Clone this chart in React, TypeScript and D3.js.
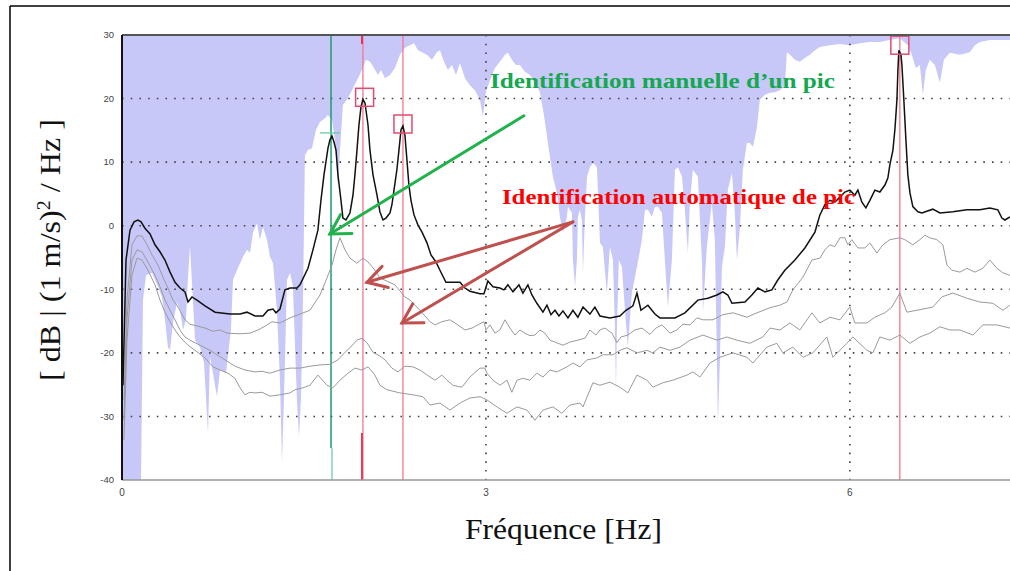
import React from 'react';
import * as d3 from 'd3';

type P = [number, number];

// Axis ticks
const xTickValues = [0, 3, 6];
const yTickValues = [30, 20, 10, 0, -10, -20, -30, -40];
const xGridValues = [3, 6];
const yGridValues = [20, 10, 0, -10, -20, -30];

// [frequency Hz, dB]
const mainSpectrum: P[] = [
  [0.008, -25.1], [0.033, -5.4], [0.066, -0.7], [0.099, 0.6], [0.132, 0.9], [0.157, 0.6], [0.189, -0.4],
  [0.231, -1.3], [0.272, -3.0], [0.313, -4.1], [0.354, -5.4], [0.396, -7.3], [0.437, -8.9], [0.478, -9.8],
  [0.519, -10.4], [0.544, -12.0], [0.577, -11.2], [0.618, -11.7], [0.684, -12.6], [0.767, -13.6], [0.89, -13.9],
  [0.973, -13.9], [1.03, -13.6], [1.096, -14.2], [1.162, -14.2], [1.203, -13.3], [1.245, -13.1], [1.269, -13.7],
  [1.302, -13.1], [1.343, -10.1], [1.385, -9.8], [1.442, -9.8], [1.467, -9.3], [1.533, -6.7], [1.574, -3.8],
  [1.615, -0.7], [1.64, 4.0], [1.665, 8.0], [1.698, 12.2], [1.714, 13.5], [1.731, 14.1], [1.747, 13.2],
  [1.764, 11.9], [1.78, 8.0], [1.805, 4.0], [1.821, 1.2], [1.846, 0.9], [1.879, 2.0], [1.904, 4.8], [1.92, 8.0],
  [1.937, 11.9], [1.953, 15.8], [1.97, 18.7], [1.986, 19.9], [2.003, 19.3], [2.011, 18.2], [2.028, 15.8],
  [2.044, 11.9], [2.069, 8.0], [2.102, 4.8], [2.126, 2.2], [2.151, 0.9], [2.176, 1.2], [2.209, 2.0], [2.225, 3.3],
  [2.242, 5.6], [2.266, 8.8], [2.283, 11.9], [2.3, 15.1], [2.316, 15.7], [2.332, 14.3], [2.349, 10.3],
  [2.365, 6.4], [2.382, 4.0], [2.407, 1.7], [2.44, 0.1], [2.473, -1.0], [2.514, -2.7], [2.547, -4.6],
  [2.588, -5.7], [2.621, -7.0], [2.67, -8.9], [2.72, -8.9], [2.786, -8.9], [2.827, -9.8], [2.868, -10.3],
  [2.951, -10.7], [2.984, -10.7], [3.016, -8.7], [3.058, -9.6], [3.115, -9.8], [3.148, -10.1], [3.181, -9.3],
  [3.223, -10.4], [3.272, -9.3], [3.305, -10.6], [3.346, -9.3], [3.379, -10.9], [3.42, -12.2], [3.47, -13.6],
  [3.503, -12.5], [3.536, -14.0], [3.569, -13.3], [3.602, -14.2], [3.635, -13.4], [3.676, -14.5], [3.717, -13.3],
  [3.758, -14.4], [3.8, -12.8], [3.857, -13.9], [3.898, -12.8], [3.94, -14.2], [4.022, -14.5], [4.104, -14.2],
  [4.154, -13.3], [4.212, -12.6], [4.245, -10.6], [4.278, -13.3], [4.335, -12.5], [4.393, -13.9], [4.434, -14.5],
  [4.5, -14.5], [4.558, -14.5], [4.64, -13.7], [4.747, -11.7], [4.83, -11.4], [4.904, -10.9], [4.953, -10.4],
  [4.994, -10.9], [5.028, -12.2], [5.135, -12.0], [5.192, -10.9], [5.242, -9.8], [5.3, -10.4], [5.357, -10.1],
  [5.407, -8.5], [5.464, -7.0], [5.547, -5.4], [5.629, -3.5], [5.712, -1.0], [5.753, 1.7], [5.794, 3.3],
  [5.835, 4.0], [5.876, 3.7], [5.918, 4.5], [5.959, 5.3], [6.0, 5.6], [6.041, 4.8], [6.066, 5.6], [6.099, 3.7],
  [6.132, 2.8], [6.165, 4.0], [6.206, 5.6], [6.247, 5.3], [6.289, 6.4], [6.313, 7.5], [6.33, 9.6], [6.355, 11.9],
  [6.371, 15.1], [6.388, 19.8], [6.396, 24.5], [6.404, 27.6], [6.421, 26.9], [6.429, 25.3], [6.445, 19.8],
  [6.462, 13.5], [6.478, 8.0], [6.495, 5.2], [6.519, 3.0], [6.561, 2.2], [6.594, 2.0], [6.684, 2.6], [6.742, 2.0],
  [6.849, 2.2], [6.964, 2.5], [7.072, 2.5], [7.154, 2.8], [7.22, 2.5], [7.253, 1.2], [7.278, 0.9], [7.319, 1.4],
];

const graySpectrum1: P[] = [
  [0.016, -27.4], [0.041, -11.7], [0.082, -3.0], [0.124, -1.6], [0.165, -1.6], [0.206, -3.0], [0.247, -4.6],
  [0.297, -6.2], [0.338, -8.1], [0.379, -9.8], [0.42, -11.7], [0.462, -12.8], [0.519, -14.8], [0.56, -15.5],
  [0.626, -15.8], [0.684, -16.1], [0.75, -16.6], [0.808, -16.4], [0.865, -16.9], [0.973, -17.0], [1.055, -16.9],
  [1.121, -16.4], [1.179, -15.8], [1.236, -15.1], [1.302, -15.3], [1.385, -14.5], [1.467, -13.9], [1.549, -13.3],
  [1.632, -10.9], [1.69, -8.2], [1.731, -6.2], [1.764, -3.8], [1.797, -1.9], [1.838, -3.8], [1.879, -5.1],
  [1.937, -5.9], [1.986, -5.1], [2.028, -5.7], [2.085, -7.0], [2.126, -8.2], [2.25, -9.3], [2.332, -11.2],
  [2.374, -11.7], [2.456, -13.3], [2.539, -15.1], [2.58, -15.6], [2.637, -15.1], [2.703, -14.8], [2.761, -15.5],
  [2.827, -16.4], [2.885, -16.1], [2.934, -15.6], [2.984, -15.1], [3.0, -16.4], [3.033, -15.6], [3.074, -16.9],
  [3.115, -16.4], [3.157, -14.8], [3.198, -16.1], [3.239, -17.2], [3.28, -16.4], [3.321, -16.9], [3.363, -17.3],
  [3.404, -17.2], [3.445, -16.4], [3.486, -16.9], [3.528, -18.0], [3.569, -18.3], [3.635, -18.8], [3.692, -18.3],
  [3.758, -18.0], [3.816, -17.7], [3.857, -16.4], [3.907, -17.2], [3.94, -16.4], [3.981, -16.1], [4.039, -16.9],
  [4.08, -18.4], [4.113, -17.5], [4.17, -17.2], [4.228, -16.4], [4.286, -16.1], [4.352, -17.1], [4.401, -16.1],
  [4.451, -15.6], [4.517, -16.9], [4.574, -16.4], [4.624, -15.5], [4.682, -15.6], [4.739, -14.5], [4.789, -14.8],
  [4.871, -14.8], [4.953, -14.0], [5.036, -13.7], [5.151, -14.4], [5.234, -13.7], [5.341, -12.9], [5.423, -12.5],
  [5.481, -12.0], [5.53, -10.1], [5.613, -8.1], [5.687, -5.4], [5.753, -5.1], [5.794, -3.8], [5.835, -3.0],
  [5.876, -3.3], [5.918, -1.9], [5.959, -1.9], [5.983, -3.0], [6.016, -2.2], [6.066, -3.5], [6.124, -3.5],
  [6.165, -2.7], [6.223, -4.3], [6.272, -3.0], [6.33, -2.2], [6.412, -1.9], [6.453, -2.2], [6.519, -3.0],
  [6.577, -2.2], [6.618, -1.5], [6.659, -1.9], [6.717, -2.2], [6.767, -3.0], [6.8, -6.2], [6.841, -7.0],
  [6.907, -7.3], [6.964, -6.7], [7.03, -7.3], [7.096, -6.7], [7.154, -5.4], [7.212, -6.7], [7.261, -7.4],
  [7.319, -7.8],
];

const graySpectrum2: P[] = [
  [0.016, -30.6], [0.041, -14.8], [0.082, -5.4], [0.124, -3.8], [0.165, -4.1], [0.214, -5.7], [0.272, -7.8],
  [0.313, -9.6], [0.354, -11.7], [0.396, -13.3], [0.437, -14.8], [0.478, -16.4], [0.519, -17.5], [0.56, -18.0],
  [0.643, -18.8], [0.725, -19.6], [0.783, -20.3], [0.849, -21.1], [0.931, -22.1], [1.014, -22.7], [1.096, -23.0],
  [1.154, -22.9], [1.22, -23.2], [1.302, -22.7], [1.385, -22.4], [1.467, -22.4], [1.549, -22.1], [1.632, -21.9],
  [1.714, -21.8], [1.78, -21.1], [1.838, -19.9], [1.879, -19.2], [1.937, -18.0], [1.978, -17.7], [2.019, -18.4],
  [2.069, -19.9], [2.126, -20.5], [2.168, -21.1], [2.225, -22.4], [2.275, -23.0], [2.332, -22.1], [2.398, -22.2],
  [2.456, -22.7], [2.539, -23.8], [2.58, -24.3], [2.637, -23.5], [2.679, -24.3], [2.728, -25.1], [2.802, -25.4],
  [2.868, -23.8], [2.951, -22.4], [2.992, -22.4], [3.008, -23.2], [3.058, -24.3], [3.115, -25.1], [3.173, -24.3],
  [3.214, -26.2], [3.256, -24.3], [3.305, -24.0], [3.363, -24.3], [3.42, -23.2], [3.47, -23.8], [3.528, -22.7],
  [3.585, -23.0], [3.668, -22.2], [3.717, -21.6], [3.775, -22.2], [3.833, -21.1], [3.915, -20.8], [3.964, -20.3],
  [4.047, -20.3], [4.104, -19.6], [4.162, -19.2], [4.245, -20.0], [4.327, -19.6], [4.376, -20.0], [4.434, -19.1],
  [4.517, -19.6], [4.599, -19.1], [4.682, -18.0], [4.789, -17.2], [4.904, -18.0], [4.986, -17.5], [5.069, -18.0],
  [5.176, -18.5], [5.283, -17.5], [5.341, -16.1], [5.423, -16.4], [5.506, -15.3], [5.588, -16.4], [5.687, -13.7],
  [5.753, -15.3], [5.835, -14.4], [5.918, -14.8], [6.0, -12.8], [6.041, -15.3], [6.14, -15.3], [6.206, -14.4],
  [6.289, -13.7], [6.346, -12.8], [6.412, -10.6], [6.47, -13.6], [6.552, -13.3], [6.684, -12.8], [6.758, -11.2],
  [6.849, -10.6], [6.964, -11.4], [7.072, -12.0], [7.179, -12.2], [7.261, -13.3], [7.319, -12.5],
];

const graySpectrum3: P[] = [
  [0.016, -33.7], [0.041, -18.0], [0.082, -7.8], [0.124, -5.1], [0.165, -5.4], [0.214, -7.0], [0.272, -9.3],
  [0.313, -11.7], [0.354, -13.6], [0.396, -15.1], [0.437, -16.4], [0.478, -17.5], [0.544, -18.8], [0.602, -19.6],
  [0.684, -20.8], [0.75, -22.2], [0.808, -22.7], [0.874, -23.2], [0.931, -24.0], [0.973, -25.5], [1.014, -26.6],
  [1.055, -26.2], [1.096, -26.3], [1.154, -26.2], [1.22, -26.8], [1.302, -26.6], [1.385, -26.3], [1.426, -25.8],
  [1.492, -25.5], [1.549, -25.1], [1.615, -23.5], [1.69, -25.1], [1.739, -25.5], [1.797, -24.3], [1.863, -23.2],
  [1.92, -22.4], [1.978, -22.7], [2.028, -22.2], [2.085, -23.5], [2.126, -25.1], [2.184, -25.8], [2.291, -26.3],
  [2.398, -26.6], [2.481, -26.9], [2.539, -28.2], [2.621, -27.9], [2.703, -29.0], [2.786, -27.9], [2.868, -27.1],
  [2.951, -26.9], [3.008, -27.4], [3.091, -28.5], [3.173, -29.5], [3.256, -28.5], [3.338, -29.0], [3.404, -30.6],
  [3.47, -29.0], [3.552, -28.5], [3.626, -29.5], [3.692, -28.2], [3.775, -27.9], [3.8, -28.5], [3.882, -24.7],
  [3.94, -25.1], [4.022, -24.6], [4.104, -25.4], [4.17, -26.3], [4.245, -23.5], [4.327, -24.3], [4.376, -25.4],
  [4.459, -24.7], [4.541, -24.3], [4.657, -23.5], [4.706, -23.0], [4.764, -23.8], [4.846, -21.6], [4.929, -20.7],
  [5.036, -20.0], [5.151, -20.7], [5.201, -21.6], [5.316, -19.1], [5.398, -18.5], [5.448, -20.0], [5.53, -19.1],
  [5.613, -20.7], [5.695, -20.0], [5.81, -17.5], [5.86, -20.7], [5.975, -18.5], [6.025, -17.5], [6.14, -19.6],
  [6.19, -20.0], [6.247, -17.5], [6.33, -18.0], [6.412, -17.2], [6.495, -18.5], [6.577, -17.5], [6.659, -16.9],
  [6.742, -15.9], [6.824, -16.4], [6.907, -16.4], [7.014, -17.2], [7.096, -15.6], [7.212, -15.6], [7.319, -16.1],
];

// lower edge of the shaded band (shaded from the top of the plot down to this edge)
const bandEdge: P[] = [
  [0, -40], [0.157, -40], [0.173, -11.7], [0.198, -7.8], [0.247, -7.4], [0.272, -8.5], [0.297, -9.6],
  [0.33, -11.2], [0.354, -14.8], [0.379, -19.1], [0.396, -19.6], [0.42, -15.3], [0.453, -12.1], [0.478, -13.3],
  [0.503, -16.4], [0.527, -14.8], [0.544, -8.1], [0.56, -3.3], [0.577, -9.0], [0.602, -18.0], [0.643, -19.1],
  [0.676, -21.6], [0.709, -32.6], [0.725, -20.6], [0.75, -23.2], [0.783, -26.9], [0.808, -22.7], [0.857, -23.2],
  [0.898, -16.4], [0.915, -8.5], [0.948, -7.0], [0.997, -4.9], [1.03, -3.8], [1.055, -4.3], [1.08, -1.1],
  [1.113, 0.4], [1.137, -2.2], [1.162, -0.2], [1.195, -2.2], [1.22, -4.9], [1.245, -5.9], [1.277, -13.3],
  [1.302, -24.3], [1.319, -37.2], [1.335, -27.4], [1.36, -8.5], [1.385, -7.4], [1.409, -9.6], [1.442, -27.4],
  [1.459, -33.2], [1.475, -27.4], [1.492, -11.7], [1.508, 11.1], [1.533, 11.9], [1.566, 12.2], [1.599, 15.1],
  [1.632, 16.3], [1.673, 16.9], [1.698, 17.4], [1.731, 16.6], [1.756, 13.5], [1.78, 6.4], [1.797, 11.9],
  [1.821, 19.0], [1.854, 19.8], [1.896, 21.3], [1.937, 22.9], [1.978, 24.5], [2.011, 26.1], [2.044, 25.8],
  [2.077, 24.8], [2.11, 23.7], [2.135, 24.5], [2.168, 23.2], [2.209, 23.7], [2.25, 24.8], [2.291, 26.9],
  [2.332, 28.0], [2.374, 28.4], [2.407, 28.7], [2.44, 27.6], [2.473, 27.3], [2.514, 26.9], [2.555, 26.1],
  [2.596, 27.3], [2.621, 27.6], [2.654, 25.8], [2.687, 24.5], [2.72, 25.3], [2.753, 23.7], [2.786, 25.6],
  [2.827, 23.2], [2.868, 22.1], [2.909, 21.3], [2.951, 19.8], [2.975, 17.1], [3.0, 21.0], [3.033, 22.9],
  [3.074, 24.8], [3.115, 25.8], [3.157, 26.9], [3.181, 27.2], [3.214, 26.1], [3.247, 25.3], [3.28, 25.3],
  [3.321, 24.2], [3.363, 23.7], [3.404, 22.6], [3.445, 21.0], [3.478, 17.4], [3.511, 13.0], [3.552, 7.7],
  [3.585, 5.2], [3.61, 1.4], [3.635, -1.1], [3.668, 1.4], [3.676, 3.0], [3.709, 2.0], [3.717, -5.4],
  [3.734, -9.6], [3.75, -5.4], [3.758, 1.4], [3.775, 2.5], [3.791, 0.9], [3.8, -7.4], [3.816, 1.4],
  [3.833, 7.7], [3.857, 9.2], [3.882, 9.9], [3.915, 9.2], [3.923, 5.2], [3.94, -2.7], [3.964, -3.3],
  [3.997, -10.6], [4.022, -3.3], [4.047, -5.4], [4.063, -15.9], [4.072, -25.8], [4.08, -15.9], [4.096, -5.4],
  [4.121, -6.5], [4.146, -13.3], [4.17, -19.1], [4.203, -10.6], [4.245, -6.5], [4.286, -2.2], [4.311, 2.5],
  [4.335, 2.5], [4.368, 1.4], [4.393, 3.0], [4.418, 3.0], [4.451, 2.0], [4.475, -5.4], [4.5, -12.8],
  [4.533, -5.4], [4.558, 8.8], [4.583, 9.2], [4.616, 7.7], [4.64, 2.5], [4.665, -4.3], [4.682, 4.0],
  [4.706, 8.8], [4.747, 7.7], [4.78, -5.4], [4.789, -13.7], [4.821, -3.3], [4.862, 3.6], [4.887, -2.2],
  [4.904, -21.1], [4.912, -31.0], [4.929, -21.1], [4.945, -6.5], [4.97, -3.3], [4.994, 5.6], [5.028, 8.3],
  [5.052, 2.0], [5.069, -5.4], [5.094, -0.2], [5.118, 8.8], [5.151, 13.0], [5.176, 13.0], [5.201, 12.4],
  [5.234, 15.5], [5.258, 19.8], [5.3, 20.6], [5.341, 20.9], [5.382, 21.0], [5.423, 21.3], [5.464, 22.1],
  [5.481, 27.3], [5.506, 26.9], [5.547, 26.1], [5.588, 25.8], [5.629, 26.4], [5.67, 26.9], [5.712, 27.6],
  [5.753, 28.1], [5.835, 28.4], [5.918, 28.6], [6.0, 28.4], [6.082, 28.7], [6.165, 28.9], [6.247, 28.9],
  [6.33, 29.2], [6.412, 29.5], [6.478, 28.4], [6.511, 26.9], [6.544, 24.8], [6.577, 25.3], [6.602, 20.6],
  [6.626, 24.5], [6.659, 26.1], [6.701, 25.3], [6.742, 22.5], [6.775, 26.1], [6.824, 27.2], [6.907, 26.9],
  [6.989, 27.3], [7.03, 28.4], [7.072, 28.9], [7.154, 29.2], [7.236, 29.2], [7.319, 29.2],
];

// peaks
const autoPeakFreqs = [1.986, 2.316, 6.412];
const autoSquareFreqs = [2.0, 2.316, 6.412];
const autoPeakDb = [20.2, 16.0, 28.4];
const manualPeakFreq = 1.723;
const manualPeakDb = 14.6;

// annotations: [freq, dB]
const manualLabel = 'Identification manuelle d\u2019un pic';
const autoLabel = 'Identification automatique de pic';
const manualLabelPos: P = [3.033, 21.6];
const autoLabelPos: P = [3.132, 3.4];
const manualArrowFrom: P = [3.313, 17.3];
const manualArrowTo: P = [1.714, -1.3];
const autoArrowFrom: P = [3.717, 0.6];
const autoArrowTargets: P[] = [[2.019, -8.9], [2.308, -15.3]];

const W = 1010;
const H = 571;
const L = 122;
const T = 35;
const B = 480;

export default function App() {
  const x = d3.scaleLinear().domain([0, 7.32]).range([L, W]);
  const y = d3.scaleLinear().domain([-40, 30]).range([B, T]);

  const line = d3.line<P>().x(d => x(d[0])).y(d => y(d[1]));
  const band = d3.area<P>().x(d => x(d[0])).y0(y(30)).y1(d => y(d[1]));

  const arrow = (from: P, to: P, color: string, key: string) => {
    const x1 = x(from[0]), y1 = y(from[1]), x2 = x(to[0]), y2 = y(to[1]);
    const ang = Math.atan2(y1 - y2, x1 - x2);
    const len = 22;
    const spread = Math.PI / 6;
    const w1: P = [x2 + len * Math.cos(ang - spread), y2 + len * Math.sin(ang - spread)];
    const w2: P = [x2 + len * Math.cos(ang + spread), y2 + len * Math.sin(ang + spread)];
    return (
      <g key={key} stroke={color} strokeWidth={3} strokeLinecap="round" fill="none">
        <line x1={x1} y1={y1} x2={x2} y2={y2} />
        <polyline points={`${w1[0]},${w1[1]} ${x2},${y2} ${w2[0]},${w2[1]}`} />
      </g>
    );
  };

  const serif = '"Liberation Serif", "Times New Roman", serif';
  const sans = '"Liberation Sans", Arial, sans-serif';

  return (
    <svg width={W} height={H} style={{ position: 'absolute', left: 0, top: 0, background: '#fff' }}>
      <defs>
        <clipPath id="plot">
          <rect x={L} y={T} width={W - L} height={B - T} />
        </clipPath>
      </defs>
      {/* outer frame */}
      <line x1={10} y1={6} x2={W} y2={6} stroke="#000" strokeWidth={1.5} />
      <line x1={10} y1={6} x2={10} y2={H} stroke="#000" strokeWidth={1.5} />

      <g clipPath="url(#plot)">
        <path d={band(bandEdge) || ''} fill="#c8c8f8" />
        {yGridValues.map(v => (
          <line key={'gy' + v} x1={L} x2={W} y1={y(v)} y2={y(v)} stroke="#444" strokeWidth={1.6} strokeDasharray="1.6 7.1" />
        ))}
        {xGridValues.map(v => (
          <line key={'gx' + v} x1={x(v)} x2={x(v)} y1={T} y2={B} stroke="#444" strokeWidth={1.6} strokeDasharray="1.6 7.1" />
        ))}
        {/* automatic peak lines */}
        {autoPeakFreqs.map(f => (
          <line key={'pl' + f} x1={x(f)} x2={x(f)} y1={T} y2={B} stroke="#f27890" strokeWidth={1.3} />
        ))}
        <line x1={x(autoPeakFreqs[0]) - 1} x2={x(autoPeakFreqs[0]) - 1} y1={y(30)} y2={y(28.6)} stroke="#e0103a" strokeWidth={1.5} />
        <line x1={x(autoPeakFreqs[0]) - 1} x2={x(autoPeakFreqs[0]) - 1} y1={y(-32.6)} y2={B} stroke="#e0103a" strokeWidth={1.5} />
        {/* manual peak line */}
        <line x1={x(manualPeakFreq)} x2={x(manualPeakFreq)} y1={T} y2={y(-35.0)} stroke="#1e9c70" strokeWidth={1.5} />
        <line x1={x(manualPeakFreq) + 1} x2={x(manualPeakFreq) + 1} y1={y(-35.0)} y2={B} stroke="#7fd6b4" strokeWidth={1.5} />
        <line x1={x(manualPeakFreq) - 11} x2={x(manualPeakFreq) + 9} y1={y(manualPeakDb)} y2={y(manualPeakDb)} stroke="#6ccaa4" strokeWidth={1.3} />

        <path d={line(graySpectrum3) || ''} fill="none" stroke="#9a9a9a" strokeWidth={1} />
        <path d={line(graySpectrum2) || ''} fill="none" stroke="#9a9a9a" strokeWidth={1} />
        <path d={line(graySpectrum1) || ''} fill="none" stroke="#9a9a9a" strokeWidth={1} />
        <path d={line(mainSpectrum) || ''} fill="none" stroke="#111" strokeWidth={1.5} />

        {autoSquareFreqs.map((f, i) => (
          <rect key={'sq' + f} x={x(f) - 9} y={y(autoPeakDb[i]) - 9} width={18} height={18}
            fill="none" stroke="#e24b70" strokeWidth={1.5} />
        ))}
      </g>

      {/* axes frame */}
      <line x1={L} x2={W} y1={T} y2={T} stroke="#555" strokeWidth={2} />
      <line x1={L} x2={W} y1={B} y2={B} stroke="#999" strokeWidth={1.5} />
      <line x1={L} x2={L} y1={T} y2={B} stroke="#111" strokeWidth={2} />

      {yTickValues.map(v => (
        <text key={'yt' + v} x={L - 8} y={y(v)} dy="0.35em" textAnchor="end" fontFamily={sans} fontSize={9.5} fill="#444">{v}</text>
      ))}
      {xTickValues.map(v => (
        <text key={'xt' + v} x={x(v)} y={B + 16} textAnchor="middle" fontFamily={sans} fontSize={10} fill="#444">{v}</text>
      ))}

      <text x={465} y={539} fontFamily={serif} fontSize={30} fill="#111" textLength={197} lengthAdjust="spacingAndGlyphs">Fréquence [Hz]</text>
      <text transform={`translate(60,250) rotate(-90)`} textAnchor="middle" fontFamily={serif} fontSize={29} fill="#111"
        textLength={262} lengthAdjust="spacingAndGlyphs">
        [ dB | (1 m/s)<tspan baselineShift="super" fontSize={18}>2</tspan> / Hz ]
      </text>

      {/* annotations */}
      {arrow(manualArrowFrom, manualArrowTo, '#22b24c', 'ga')}
      {autoArrowTargets.map((t, i) => arrow(autoArrowFrom, t, '#c0504d', 'ra' + i))}
      <text x={x(manualLabelPos[0])} y={y(manualLabelPos[1])} fontFamily={serif} fontWeight="bold" fontSize={22} fill="#14a850"
        textLength={345} lengthAdjust="spacingAndGlyphs">{manualLabel}</text>
      <text x={x(autoLabelPos[0])} y={y(autoLabelPos[1])} fontFamily={serif} fontWeight="bold" fontSize={22} fill="#ff0000"
        textLength={353} lengthAdjust="spacingAndGlyphs">{autoLabel}</text>
    </svg>
  );
}
